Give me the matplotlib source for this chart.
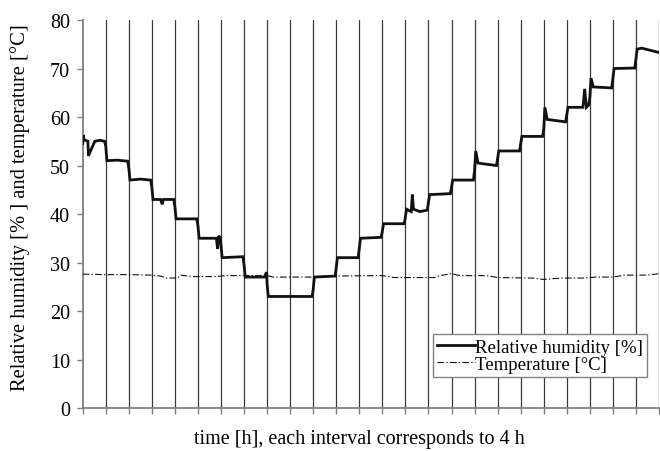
import numpy as np
import matplotlib.pyplot as plt

plt.rcParams['font.family'] = ['Liberation Serif', 'DejaVu Serif']

# time [h] and relative humidity [%]
rh_time = [0.0, 0.1, 0.25, 0.9, 1.0, 2.1, 3.0, 3.8, 4.0, 4.2, 6.0, 7.8,
           8.0, 8.2, 10.0, 11.8, 12.0, 12.2, 13.5, 13.8, 14.0, 15.8, 16.0, 16.2,
           19.8, 20.0, 20.2, 23.2, 23.4, 23.6, 23.9, 24.0, 24.2, 27.8, 28.0, 28.2,
           31.5, 31.9, 32.0, 32.2, 39.8, 40.0, 40.2, 43.8, 44.0, 44.2, 47.8, 48.0,
           48.2, 51.8, 52.0, 52.2, 55.8, 56.0, 56.2, 57.0, 57.2, 57.4, 58.5, 59.8,
           60.0, 60.2, 63.8, 64.0, 64.2, 67.8, 68.0, 68.2, 68.6, 71.8, 72.0, 72.2,
           75.8, 76.0, 76.2, 79.8, 80.0, 80.2, 80.6, 83.8, 84.0, 84.2, 86.8, 87.1,
           87.4, 87.8, 88.0, 88.2, 88.6, 91.8, 92.0, 92.2, 95.8, 96.0, 96.2, 97.0,
           100.0]
rh_value = [54.5, 56.3, 55.3, 55.0, 52.0, 55.0, 55.2, 55.0, 54.0, 51.0, 51.1, 50.9,
            49.5, 47.0, 47.2, 47.0, 45.5, 43.0, 43.0, 42.0, 43.0, 43.0, 41.5, 39.0,
            39.0, 37.5, 35.0, 35.0, 32.8, 35.5, 35.0, 33.5, 31.0, 31.2, 29.5, 27.0,
            27.0, 28.0, 25.5, 23.0, 23.0, 24.5, 27.0, 27.2, 29.0, 31.0, 31.0, 33.0,
            35.0, 35.2, 36.5, 38.0, 38.0, 39.5, 41.0, 40.5, 44.0, 41.0, 40.5, 40.8,
            42.5, 44.0, 44.2, 45.5, 47.0, 47.0, 49.0, 53.0, 50.5, 50.0, 51.5, 53.0,
            53.0, 54.5, 56.0, 56.0, 57.5, 62.0, 59.5, 59.0, 60.5, 62.0, 62.0, 65.8,
            62.0, 62.5, 64.0, 68.0, 66.2, 66.0, 68.0, 70.0, 70.1, 72.0, 74.0, 74.2,
            73.3]

# temperature [°C]
t_time = [0, 4, 8, 12, 13.5, 14.5, 16.5, 17, 19, 23, 25, 32, 33, 40, 42, 52,
          54, 61, 62, 64, 65, 66, 70, 72, 78, 80, 83, 87, 89, 92, 94, 98, 100]
t_value = [27.6, 27.5, 27.5, 27.4, 27.2, 26.8, 26.8, 27.4, 27.1, 27.1, 27.3, 27.3,
           27.0, 27.0, 27.2, 27.3, 26.9, 26.9, 27.3, 27.7, 27.4, 27.3, 27.3, 26.9,
           26.8, 26.5, 26.8, 26.8, 27.0, 27.0, 27.4, 27.4, 27.7]

x_ticks = np.arange(0, 101, 4)
y_ticks = np.arange(0, 81, 10)

fig = plt.figure(figsize=(6.6, 4.52), dpi=100)
ax = fig.add_axes([0.1253, 0.0951, 0.8732, 0.8584])

for xt in x_ticks[1:]:
    ax.axvline(xt, color='#3a3a3a', lw=0.9, zorder=1)

ax.plot(rh_time, rh_value, color='#111111', lw=2.0, solid_joinstyle='miter',
        label='Relative humidity [%]', zorder=3)
ax.plot(t_time, t_value, color='#111111', lw=0.8, linestyle=(0, (6, 2, 1.2, 2)),
        label='Temperature [°C]', zorder=3)

ax.set_xlim(0, 100)
ax.set_ylim(0, 80)
ax.set_xticks(x_ticks)
ax.set_xticklabels([])
ax.set_yticks(y_ticks)
ax.tick_params(axis='both', direction='out', length=4, color='#808080',
               labelsize=14.5, width=1)
ax.tick_params(axis='y', pad=5)

for side in ['top', 'right']:
    ax.spines[side].set_visible(False)
for side in ['left', 'bottom']:
    ax.spines[side].set_color('#808080')
    ax.spines[side].set_linewidth(1.3)

ax.set_ylabel('Relative humidity [% ] and temperature [°C]', fontsize=14.8)
ax.yaxis.set_label_coords(-0.092, 0.52)
ax.set_xlabel('time [h], each interval corresponds to 4 h', fontsize=14.5)
ax.xaxis.set_label_coords(0.4795, -0.054)

leg = ax.legend(loc='lower right', bbox_to_anchor=(0.9787, 0.08), fontsize=13.5,
                frameon=True, fancybox=False, framealpha=1, edgecolor='#808080',
                handlelength=2.0, handletextpad=0.0, borderpad=0.22, labelspacing=0.0,
                borderaxespad=0)
leg.get_frame().set_linewidth(1.0)
leg.set_zorder(5)

fig.savefig('out.png', dpi=100)
